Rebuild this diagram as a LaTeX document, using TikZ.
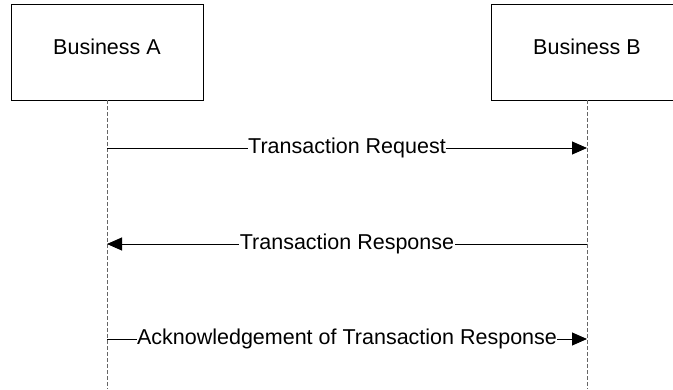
\documentclass[tikz,border=0pt]{standalone}
\usepackage{fontspec}
\setmainfont{Liberation Sans}
\usetikzlibrary{arrows.meta,
                    calc}
\tikzset{
entity/.style = {draw, line width=0.9pt, minimum width=192pt, minimum height=96pt,
    inner sep=0pt, text height=15pt, text depth=11pt, font=\fontsize{21.5}{25}\selectfont}
         }
\tikzset{
lifeline/.style = {black!60, line width=1pt, dash pattern=on 4pt off 2pt}
         }
\tikzset{
msg/.style = {-{Triangle[length=15pt,width=13pt]}, line width=0.9pt}
         }
\tikzset{
msglabel/.style = {fill=white, inner sep=0.5pt, text height=15pt, text depth=4pt,
    font=\fontsize{21.5}{25}\selectfont}
         }
\begin{document}
\begin{tikzpicture}[x=1pt,y=1pt]
        \useasboundingbox (0,0) rectangle (673,-389);

        % empresas
        \node[entity] (busa) at (107,-52) {Business A};
        \node[entity] (busb) at (587,-52) {Business B};

        % linhas de vida
        \coordinate (enda) at (busa.south |- 0,-389);
        \coordinate (endb) at (busb.south |- 0,-389);
        \draw[lifeline] (busa.south) -- (enda);
        \draw[lifeline] (busb.south) -- (endb);

        % mensagens
        \coordinate (a1) at (busa.south |- 0,-148);
        \coordinate (b1) at (busb.south |- 0,-148);
        \coordinate (a2) at (busa.south |- 0,-244);
        \coordinate (b2) at (busb.south |- 0,-244);
        \coordinate (a3) at (busa.south |- 0,-339);
        \coordinate (b3) at (busb.south |- 0,-339);

        \draw[msg] (a1) -- node[msglabel]{Transaction Request} (b1);
        \draw[msg] (b2) -- node[msglabel]{Transaction Response} (a2);
        \draw[msg] (a3) -- node[msglabel]{Acknowledgement of Transaction Response} (b3);
    \end{tikzpicture}
\end{document}
